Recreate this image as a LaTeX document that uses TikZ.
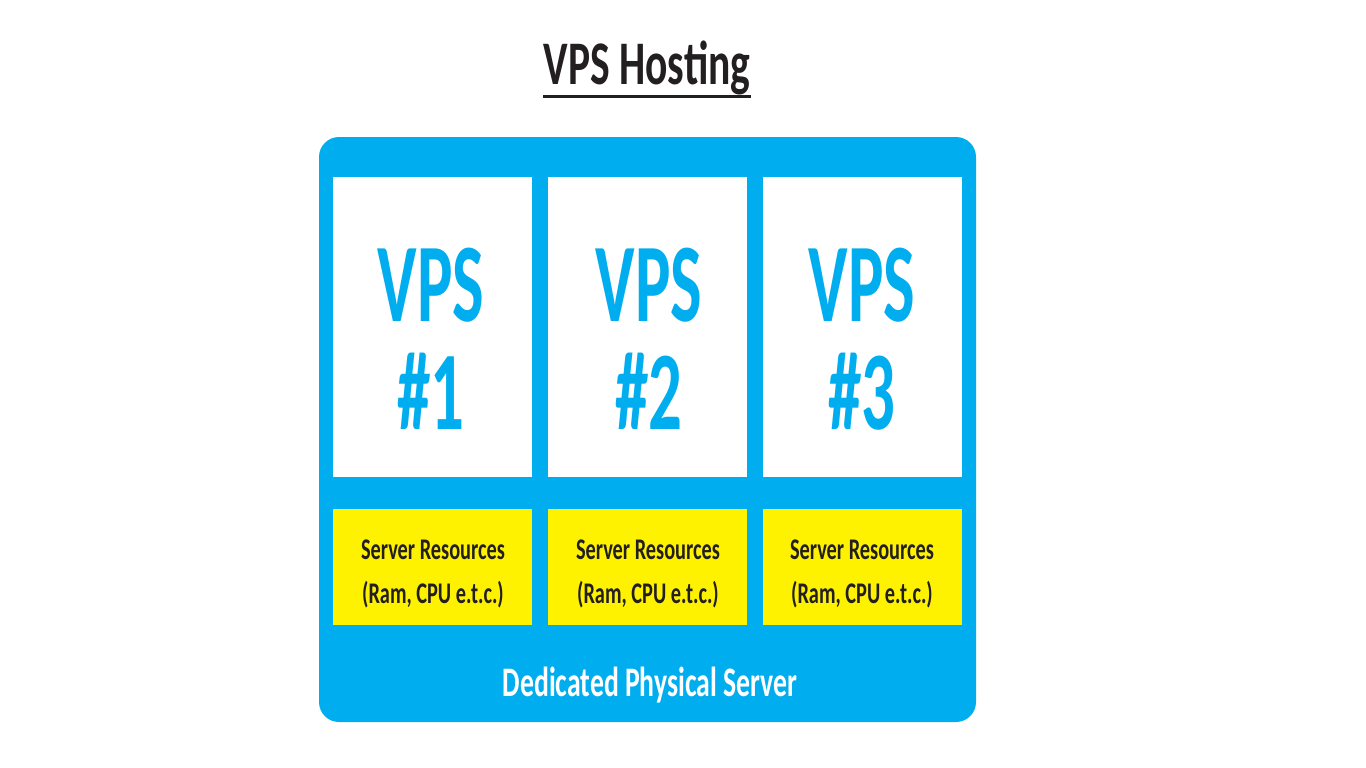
\documentclass[tikz,border=0pt]{standalone}
\usepackage{fontspec}
\setmainfont{Carlito}
\definecolor{vpsblue}{HTML}{00AEEF}
\definecolor{resyellow}{HTML}{FFF200}
\definecolor{inkdark}{HTML}{231F20}
\tikzset{
  vpsbox/.style={fill=white,draw=none,minimum width=199pt,minimum height=300pt,inner sep=0pt,outer sep=0pt},
  resbox/.style={fill=resyellow,draw=none,minimum width=199pt,minimum height=116pt,inner sep=0pt,outer sep=0pt},
  vpstext/.style={text=vpsblue,font=\fontsize{112}{108}\selectfont\bfseries,align=center,xscale=.596,inner sep=0pt},
  restext/.style={text=inkdark,font=\fontsize{30}{44}\selectfont\bfseries,align=center,xscale=.678,inner sep=0pt},
}
\begin{document}
\begin{tikzpicture}[x=1pt,y=-1pt]
\useasboundingbox (0,0) rectangle (1366,768);
\fill[white] (0,0) rectangle (1366,768);
\node[text=inkdark,font=\fontsize{62}{66}\selectfont\bfseries,xscale=.67,inner sep=0pt] (title) at (647,68) {VPS Hosting};
\draw[inkdark,line width=3pt] (543,96.5) -- (751,96.5);
\fill[vpsblue,rounded corners=20pt] (319,137) rectangle (976,722);
\node[vpsbox] (v1) at (432.5,327) {};
\node[vpsbox] (v2) at (647.5,327) {};
\node[vpsbox] (v3) at (862,327) {};
\node[resbox] (r1) at (432.5,566.5) {};
\node[resbox] (r2) at (647.5,566.5) {};
\node[resbox] (r3) at (862,566.5) {};
\node[vpstext] (t1) at (431,339) {VPS\\\#1};
\node[vpstext] (t2) at (649,339) {VPS\\\#2};
\node[vpstext] (t3) at (862,339) {VPS\\\#3};
\node[restext] (s1) at (433,574) {Server Resources\\(Ram, CPU e.t.c.)};
\node[restext] (s2) at (648,574) {Server Resources\\(Ram, CPU e.t.c.)};
\node[restext] (s3) at (862,574) {Server Resources\\(Ram, CPU e.t.c.)};
\node[text=white,font=\fontsize{42}{46}\selectfont\bfseries,xscale=.66,inner sep=0pt] (d) at (650,685) {Dedicated Physical Server};
\end{tikzpicture}
\end{document}
